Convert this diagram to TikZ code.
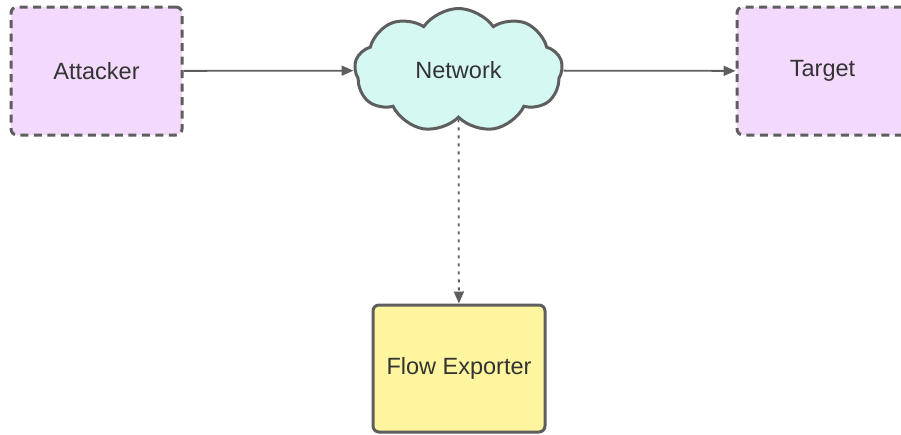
\documentclass[tikz,border=0pt]{standalone}
\usepackage{fontspec}
\setmainfont{Liberation Sans}
\usetikzlibrary{shapes.symbols,arrows.meta}

\definecolor{edgegray}{HTML}{5E5E5E}
\definecolor{textgray}{HTML}{333333}
\definecolor{hostfill}{HTML}{F3DAFD}
\definecolor{netfill}{HTML}{D5F8F2}
\definecolor{exportfill}{HTML}{FFF59F}

\begin{document}
\begin{tikzpicture}[x=1pt, y=-1pt,
  every node/.style={font=\fontsize{23.5}{28}\selectfont, text=textgray},
  host/.style={draw=edgegray, fill=hostfill, line width=3pt,
    dash pattern=on 8pt off 5.5pt, rounded corners=6pt,
    minimum width=171pt, minimum height=128pt},
  exporter/.style={draw=edgegray, fill=exportfill, line width=3pt,
    rounded corners=6pt, minimum width=172pt, minimum height=127pt},
  net/.style={cloud, cloud puffs=9, cloud puff arc=110, aspect=1.65,
    draw=edgegray, fill=netfill, line width=3pt,
    minimum width=208pt, minimum height=124pt},
  link/.style={draw=edgegray, line width=1.8pt,
    -{Triangle[length=12pt, width=10pt]}}]
  \useasboundingbox (0,0) rectangle (901,434);

  % hosts and network
  \node [host] (attacker) at (96.5,71) {Attacker};
  \node [net] (network) at (458.5,70.5) {Network};
  \node [host] (target) at (822.5,71) {Target};
  \node [exporter] (flowexp) at (459,368.5) {Flow Exporter};

  % traffic
  \draw [link] (attacker) -- (network);
  \draw [link] (network) -- (target);
  \draw [link, dash pattern=on 3pt off 5pt] (network) -- (flowexp);
\end{tikzpicture}
\end{document}
